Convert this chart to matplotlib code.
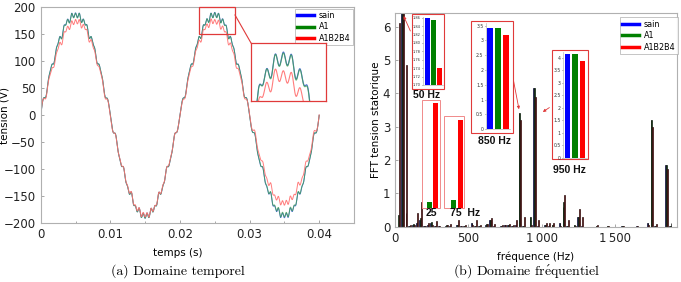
import numpy as np
import matplotlib
matplotlib.use('Agg')
import matplotlib.pyplot as plt
from matplotlib.patches import Rectangle, ConnectionPatch, FancyArrowPatch
from matplotlib.lines import Line2D
from matplotlib.ticker import FuncFormatter, MultipleLocator

plt.rcParams['mathtext.fontset'] = 'cm'

# ---------------- data ----------------
series = ['sain', 'A1', 'A1B2B4']
freqs = [25, 50, 75, 100, 125, 150, 175, 200, 225, 250, 275, 300, 350, 375, 425, 450,
         475, 525, 550, 575, 625, 650, 675, 725, 750, 775, 800, 825, 850, 875, 925, 950,
         975, 1025, 1050, 1075, 1125, 1150, 1175, 1225, 1250, 1275, 1375, 1450, 1550,
         1650, 1725, 1750, 1775, 1850, 1875]
amp_sain = [0.0, 186.0, 0.0, 0.03, 0.05, 0.10, 0.20, 0.02, 0.04, 0.10, 0.02, 0.02, 0.03, 0.02, 0.05, 0.02,
            0.02, 0.10, 0.02, 0.02, 0.05, 0.20, 0.02, 0.02, 0.04, 0.05, 0.02, 0.05, 3.42, 0.03, 0.30, 4.15,
            0.03, 0.05, 0.03, 0.05, 0.10, 0.60, 0.02, 0.05, 0.30, 0.02, 0.03, 0.02, 0.02,
            0.02, 0.10, 3.20, 0.02, 1.85, 0.02]
amp_a1 = [0.35, 185.4, 0.40, 0.03, 0.08, 0.15, 0.25, 0.02, 0.05, 0.15, 0.03, 0.02, 0.05, 0.02, 0.05, 0.02,
          0.02, 0.12, 0.03, 0.02, 0.08, 0.20, 0.02, 0.03, 0.05, 0.06, 0.02, 0.05, 3.42, 0.03, 0.30, 4.15,
          0.03, 0.05, 0.04, 0.05, 0.10, 0.75, 0.03, 0.05, 0.30, 0.02, 0.03, 0.02, 0.02,
          0.02, 0.10, 3.20, 0.02, 1.85, 0.02]
amp_a1b2b4 = [6.10, 174.0, 4.85, 0.05, 0.04, 0.40, 0.75, 0.03, 0.10, 0.05, 0.18, 0.03, 0.05, 0.07, 0.20, 0.03,
              0.04, 0.05, 0.20, 0.04, 0.08, 0.25, 0.08, 0.04, 0.05, 0.08, 0.06, 0.20, 3.20, 0.28, 0.05, 3.88,
              0.20, 0.10, 0.12, 0.10, 0.03, 0.95, 0.20, 0.02, 0.52, 0.30, 0.05, 0.03, 0.02,
              0.03, 0.05, 3.00, 0.08, 1.73, 0.10]
phase_deg = {25: 135, 75: -135, 850: 0, 950: 0, 1750: 180, 1850: 0}
phases = [np.deg2rad(phase_deg.get(f, 0)) for f in freqs]

# inset values
ins50_vals = [1.86, 1.854, 1.740]
ins25_vals = [0.35, 6.10]
ins75_vals = [0.40, 4.85]
ins850_vals = [3.42, 3.42, 3.20]
ins950_vals = [4.15, 4.15, 3.88]

# ---------------- styling ----------------
W, H = 681, 282
fig = plt.figure(figsize=(W / 100, H / 100), dpi=100)

def rect(x0, y0, x1, y1):
    return [x0 / W, 1 - y1 / H, (x1 - x0) / W, (y1 - y0) / H]

line_cols = ['#3a5fd0', '#3fa050', '#ff6f6f']
bar_cols = ['#0000ff', '#008000', '#ff0000']
box_red = '#e03a3a'
spine_col = '#b0b0b0'
tick_kw = dict(direction='in', length=2.5, width=0.6, color='#999999', labelsize=8.5, labelcolor='#222222')

def style_axes(ax):
    for s in ax.spines.values():
        s.set_color(spine_col)
        s.set_linewidth(0.8)
    ax.tick_params(which='both', **tick_kw)
    ax.tick_params(which='minor', length=1.5)

# ---------------- time domain ----------------
t = np.linspace(0, 0.04, 2401)

def synth(amps):
    y = np.zeros_like(t)
    for f, a, p in zip(freqs, amps, phases):
        y += a * np.sin(2 * np.pi * f * t + p)
    return y

waves = [synth(amp_sain), synth(amp_a1), synth(amp_a1b2b4)]

ax1 = fig.add_axes(rect(40.7, 7.3, 354, 223.3))
for w, c, a in zip(waves, line_cols, [0.9, 0.75, 0.9]):
    ax1.plot(t, w, color=c, lw=0.7, alpha=a)
ax1.set_xlim(0, 0.045)
ax1.set_ylim(-200, 200)
ax1.xaxis.set_major_locator(MultipleLocator(0.01))
ax1.xaxis.set_minor_locator(MultipleLocator(0.005))
ax1.yaxis.set_major_locator(MultipleLocator(50))
ax1.xaxis.set_major_formatter(FuncFormatter(lambda v, p: '%g' % round(v, 3)))
style_axes(ax1)
ax1.set_xlabel('temps (s)', fontsize=7.5)
ax1.set_ylabel('tension (V)', fontsize=7.5)
ax1.yaxis.set_label_coords(-0.1, 0.5)
ax1.xaxis.set_label_coords(0.438, -0.115)
handles = [Line2D([], [], color=c, lw=2.5) for c in bar_cols]
leg_kw = dict(fontsize=5.8, fancybox=False, edgecolor='#aaaaaa', handlelength=2.1,
              labelspacing=0.3, borderpad=0.3, handletextpad=0.6)
leg1 = ax1.legend(handles, series, loc='upper right', borderaxespad=0.15, **leg_kw)
leg1.get_frame().set_linewidth(0.6)

# zoom rectangle and inset
zx0, zx1, zy0, zy1 = 0.0228, 0.0279, 151, 200
ax1.add_patch(Rectangle((zx0, zy0), zx1 - zx0, zy1 - zy0, fill=False, ec=box_red, lw=0.9, clip_on=False, zorder=5))
ax1in = fig.add_axes(rect(251, 43, 326, 101))
for w, c, a in zip(waves, line_cols, [0.9, 0.75, 0.9]):
    ax1in.plot(t, w, color=c, lw=0.8, alpha=a)
ax1in.set_xlim(zx0, zx1)
ax1in.set_ylim(zy0 + 5, zy1 - 3)
ax1in.set_xticks([]); ax1in.set_yticks([])
for s in ax1in.spines.values():
    s.set_color(box_red); s.set_linewidth(0.9)
con = ConnectionPatch(xyA=(zx1, 186), coordsA=ax1.transData, xyB=(0, 1), coordsB=ax1in.transAxes,
                      color=box_red, lw=0.8)
fig.add_artist(con)

# ---------------- frequency domain ----------------
ax2 = fig.add_axes(rect(395, 13.3, 676.7, 226.7))
bw = 5.5
for i, (amps, c) in enumerate(zip([amp_sain, amp_a1, amp_a1b2b4], bar_cols)):
    ax2.bar(np.array(freqs) + (i - 1) * bw, amps, width=bw, color=c, edgecolor='#111111', lw=0.5)
ax2.set_xlim(0, 1920)
ax2.set_ylim(0, 6.4)
ax2.xaxis.set_major_locator(MultipleLocator(500))
ax2.yaxis.set_major_locator(MultipleLocator(1))
ax2.xaxis.set_major_formatter(FuncFormatter(lambda v, p: ('%d' % v) if v < 1000 else '%d\u2009%03d' % (v // 1000, v % 1000)))
style_axes(ax2)
ax2.set_xlabel('fréquence (Hz)', fontsize=7.5)
ax2.set_ylabel('FFT tension statorique', fontsize=7.5)
ax2.yaxis.set_label_coords(-0.05, 0.5)
ax2.xaxis.set_label_coords(0.5, -0.115)
leg2 = ax2.legend(handles, series, loc='upper right', bbox_to_anchor=(1.004, 0.981), borderaxespad=0.0, **leg_kw)
leg2.get_frame().set_linewidth(0.6)

def box(x0, y0, x1, y1, col=box_red, lw=0.8):
    fig.add_artist(Rectangle((x0 / W, 1 - y1 / H), (x1 - x0) / W, (y1 - y0) / H,
                             transform=fig.transFigure, fill=True, fc='white', ec=col, lw=lw, zorder=3))

def bar_inset(r, vals, cols, ylim, ticks=None, fmt='%g', xlim=(-0.55, 2.6), tsize=3.3):
    a = fig.add_axes(rect(*r))
    a.set_zorder(4)
    a.bar(range(len(vals)), vals, width=0.75, color=cols)
    a.set_ylim(*ylim)
    a.set_xlim(*xlim)
    a.set_xticks([])
    for k in ['top', 'right']:
        a.spines[k].set_visible(False)
    for k in ['left', 'bottom']:
        a.spines[k].set_color('#bbbbbb'); a.spines[k].set_linewidth(0.5)
    if ticks is None:
        a.set_yticks([])
        a.spines['left'].set_visible(False)
        a.spines['bottom'].set_visible(False)
    else:
        a.set_yticks(ticks)
        a.set_yticklabels([fmt % v for v in ticks])
        a.tick_params(axis='y', labelsize=tsize, length=1, width=0.4, pad=0.8, colors='#333333')
    a.patch.set_alpha(0)
    return a

lbl_kw = dict(fontsize=7.5, fontweight='bold', family='Liberation Sans', ha='center', va='center', color='#111111')

# 50 Hz inset
box(411.5, 14, 443.5, 88.5)
bar_inset((423.3, 16.5, 442.8, 85), ins50_vals, bar_cols, (1.70, 1.863),
          ticks=np.arange(1.70, 1.861, 0.02), fmt='%.2f', xlim=(-0.7, 2.5), tsize=2.6)
fig.text(426.7 / W, 1 - 94.5 / H, '50 Hz', **lbl_kw)

# 25 / 75 insets
box(422.3, 100, 440, 207.7, col='#f08a8a', lw=0.7)
bar_inset((422.3, 100, 440, 207.7), ins25_vals, bar_cols[1:], (0, 6.3), xlim=(-1.05, 1.6))
box(444.3, 115.7, 464, 207.7, col='#f08a8a', lw=0.7)
bar_inset((444.3, 115.7, 464, 207.7), ins75_vals, bar_cols[1:], (0, 5.08), xlim=(-1.25, 1.5))
fig.text(431.7 / W, 1 - 212.5 / H, '25', **lbl_kw)
fig.text(450.5 / W, 1 - 212.5 / H, '75  Hz', **dict(lbl_kw, ha='left'))

# 850 Hz inset
box(471, 21, 512.7, 133.3)
bar_inset((486, 22.7, 510.5, 129.3), ins850_vals, bar_cols, (0, 3.6),
          ticks=np.arange(0, 3.51, 0.5))
fig.text(495 / W, 1 - 141 / H, '850 Hz', **lbl_kw)

# 950 Hz inset
box(551.7, 50, 588.3, 159)
bar_inset((563.3, 52.5, 586.5, 157.7), ins950_vals, bar_cols, (0, 4.2),
          ticks=np.arange(0, 4.01, 0.5), xlim=(-0.6, 2.55))
fig.text(569.5 / W, 1 - 170 / H, '950 Hz', **lbl_kw)

# arrows
def arrow(x0, y0, x1, y1):
    fig.add_artist(FancyArrowPatch((x0 / W, 1 - y0 / H), (x1 / W, 1 - y1 / H), transform=fig.transFigure,
                                   arrowstyle='-|>', mutation_scale=4, color=box_red, lw=0.6, zorder=6))

arrow(411.5, 33.5, 402.5, 13.5)
arrow(513, 78, 519.5, 112)
arrow(551.7, 106, 540.5, 113.5)

# captions
cap_kw = dict(fontsize=10, ha='center', va='center', family='cmr10')
fig.text(177.5 / W, 1 - 271 / H, '(a) Domaine temporel', **cap_kw)
fig.text(527 / W, 1 - 271 / H, r'(b) Domaine fr$\mathrm{\acute{e}}$quentiel', **cap_kw)

fig.savefig('out.png', dpi=100)
